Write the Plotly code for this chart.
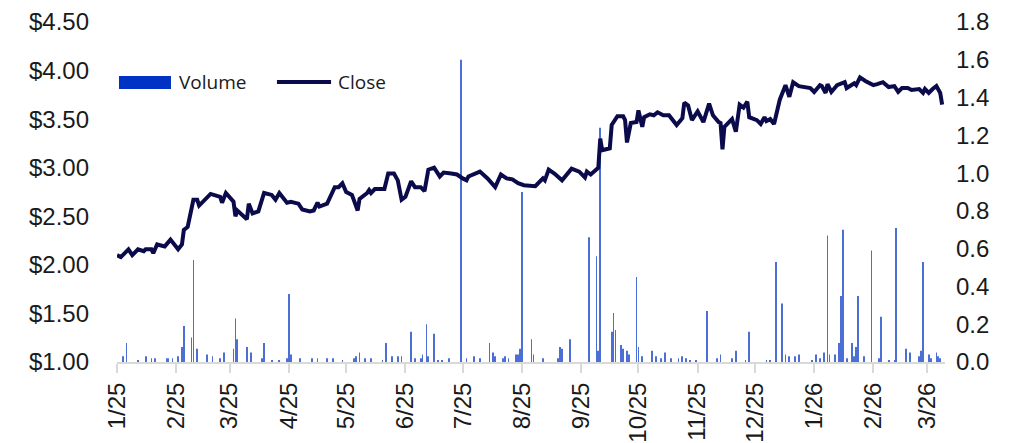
import plotly.graph_objects as go

# closing price
close_dates = [
    "2025-01-01", "2025-01-03", "2025-01-07", "2025-01-09", "2025-01-12", "2025-01-15", "2025-01-16",
    "2025-01-19", "2025-01-20", "2025-01-22", "2025-01-26", "2025-01-29", "2025-02-02", "2025-02-04",
    "2025-02-05", "2025-02-07", "2025-02-10", "2025-02-12", "2025-02-13", "2025-02-19", "2025-02-24",
    "2025-02-25", "2025-02-27", "2025-03-03", "2025-03-04", "2025-03-05", "2025-03-10", "2025-03-11",
    "2025-03-13", "2025-03-16", "2025-03-19", "2025-03-23", "2025-03-25", "2025-03-27", "2025-03-31",
    "2025-04-02", "2025-04-06", "2025-04-08", "2025-04-12", "2025-04-14", "2025-04-16", "2025-04-17",
    "2025-04-21", "2025-04-25", "2025-04-27", "2025-04-29", "2025-05-01", "2025-05-04", "2025-05-07",
    "2025-05-08", "2025-05-12", "2025-05-13", "2025-05-14", "2025-05-16", "2025-05-21", "2025-05-23",
    "2025-05-26", "2025-05-28", "2025-05-30", "2025-06-01", "2025-06-04", "2025-06-06", "2025-06-09",
    "2025-06-11", "2025-06-13", "2025-06-16", "2025-06-19", "2025-06-21", "2025-06-25", "2025-06-28",
    "2025-07-01", "2025-07-03", "2025-07-04", "2025-07-07", "2025-07-10", "2025-07-14", "2025-07-18",
    "2025-07-21", "2025-07-24", "2025-07-27", "2025-07-30", "2025-08-02", "2025-08-05", "2025-08-08",
    "2025-08-12", "2025-08-13", "2025-08-15", "2025-08-18", "2025-08-22", "2025-08-27", "2025-08-31",
    "2025-09-03", "2025-09-04", "2025-09-06", "2025-09-10", "2025-09-11", "2025-09-12", "2025-09-16",
    "2025-09-17", "2025-09-20", "2025-09-23", "2025-09-24", "2025-09-25", "2025-09-27", "2025-09-30",
    "2025-10-01", "2025-10-03", "2025-10-04", "2025-10-07", "2025-10-09", "2025-10-11", "2025-10-14",
    "2025-10-17", "2025-10-21", "2025-10-24", "2025-10-25", "2025-10-27", "2025-10-29", "2025-11-01",
    "2025-11-02", "2025-11-04", "2025-11-07", "2025-11-09", "2025-11-12", "2025-11-13", "2025-11-14",
    "2025-11-15", "2025-11-19", "2025-11-21", "2025-11-23", "2025-11-25", "2025-11-27", "2025-11-28",
    "2025-12-02", "2025-12-04", "2025-12-06", "2025-12-07", "2025-12-09", "2025-12-11", "2025-12-14",
    "2025-12-17", "2025-12-19", "2025-12-21", "2025-12-24", "2025-12-27", "2025-12-30", "2026-01-01",
    "2026-01-04", "2026-01-05", "2026-01-07", "2026-01-08", "2026-01-10", "2026-01-13", "2026-01-17",
    "2026-01-18", "2026-01-22", "2026-01-23", "2026-01-25", "2026-01-28", "2026-02-01", "2026-02-03",
    "2026-02-06", "2026-02-09", "2026-02-12", "2026-02-14", "2026-02-16", "2026-02-19", "2026-02-21",
    "2026-02-25", "2026-02-27", "2026-02-28", "2026-03-02", "2026-03-04", "2026-03-06", "2026-03-08",
    "2026-03-09",
]
close_values = [
    2.10, 2.08, 2.16, 2.10, 2.16, 2.14, 2.16,
    2.16, 2.12, 2.21, 2.19, 2.26, 2.16, 2.21,
    2.36, 2.39, 2.67, 2.67, 2.61, 2.73, 2.70,
    2.64, 2.74, 2.65, 2.50, 2.56, 2.47, 2.63,
    2.53, 2.55, 2.74, 2.72, 2.67, 2.74, 2.64,
    2.65, 2.63, 2.57, 2.55, 2.56, 2.64, 2.60,
    2.63, 2.80, 2.80, 2.84, 2.75, 2.72, 2.56,
    2.68, 2.74, 2.77, 2.74, 2.78, 2.78, 2.94,
    2.94, 2.87, 2.67, 2.70, 2.86, 2.80, 2.80,
    2.76, 2.98, 3.00, 2.91, 2.95, 2.94, 2.93,
    2.89, 2.87, 2.91, 2.93, 2.96, 2.89, 2.80,
    2.93, 2.89, 2.88, 2.84, 2.82, 2.81, 2.81,
    2.89, 2.87, 2.98, 2.94, 2.87, 2.99, 2.96,
    2.90, 2.96, 2.93, 3.00, 3.30, 3.18, 3.20,
    3.44, 3.53, 3.53, 3.49, 3.26, 3.46, 3.47,
    3.59, 3.42, 3.52, 3.55, 3.54, 3.57, 3.54,
    3.54, 3.44, 3.51, 3.67, 3.64, 3.49, 3.58,
    3.54, 3.47, 3.66, 3.54, 3.47, 3.46, 3.19,
    3.42, 3.50, 3.37, 3.65, 3.62, 3.68, 3.52,
    3.49, 3.45, 3.52, 3.48, 3.50, 3.45, 3.70,
    3.85, 3.73, 3.88, 3.84, 3.83, 3.82, 3.78,
    3.85, 3.84, 3.77, 3.86, 3.78, 3.85, 3.88,
    3.82, 3.87, 3.85, 3.93, 3.89, 3.85, 3.86,
    3.88, 3.83, 3.84, 3.78, 3.82, 3.82, 3.80,
    3.81, 3.77, 3.81, 3.77, 3.81, 3.84, 3.77,
    3.65,
]

# daily volume (millions), right axis
vol_dates = [
    "2025-01-04", "2025-01-06", "2025-01-12", "2025-01-16", "2025-01-19", "2025-01-21", "2025-01-27",
    "2025-01-28", "2025-01-30", "2025-02-02", "2025-02-04", "2025-02-05", "2025-02-09", "2025-02-10",
    "2025-02-12", "2025-02-17", "2025-02-20", "2025-02-24", "2025-02-26", "2025-03-03", "2025-03-04",
    "2025-03-05", "2025-03-10", "2025-03-12", "2025-03-18", "2025-03-19", "2025-03-23", "2025-03-27",
    "2025-03-31", "2025-04-01", "2025-04-02", "2025-04-07", "2025-04-13", "2025-04-16", "2025-04-21",
    "2025-04-24", "2025-04-29", "2025-05-05", "2025-05-06", "2025-05-08", "2025-05-11", "2025-05-14",
    "2025-05-20", "2025-05-22", "2025-05-25", "2025-05-28", "2025-05-30", "2025-06-04", "2025-06-06",
    "2025-06-09", "2025-06-10", "2025-06-12", "2025-06-13", "2025-06-16", "2025-06-18", "2025-06-20",
    "2025-06-24", "2025-06-30", "2025-07-03", "2025-07-07", "2025-07-10", "2025-07-15", "2025-07-17",
    "2025-07-18", "2025-07-22", "2025-07-23", "2025-07-25", "2025-07-29", "2025-07-30", "2025-07-31",
    "2025-08-01", "2025-08-06", "2025-08-07", "2025-08-12", "2025-08-20", "2025-08-21", "2025-08-22",
    "2025-08-26", "2025-09-05", "2025-09-09", "2025-09-10", "2025-09-11", "2025-09-17", "2025-09-18",
    "2025-09-19", "2025-09-22", "2025-09-23", "2025-09-25", "2025-09-26", "2025-09-30", "2025-10-01",
    "2025-10-03", "2025-10-08", "2025-10-10", "2025-10-13", "2025-10-15", "2025-10-18", "2025-10-22",
    "2025-10-24", "2025-10-26", "2025-10-28", "2025-10-31", "2025-11-06", "2025-11-11", "2025-11-13",
    "2025-11-19", "2025-11-21", "2025-11-26", "2025-11-28", "2025-12-07", "2025-12-09", "2025-12-12",
    "2025-12-15", "2025-12-17", "2025-12-19", "2025-12-22", "2025-12-24", "2025-12-31", "2026-01-02",
    "2026-01-04", "2026-01-06", "2026-01-08", "2026-01-09", "2026-01-12", "2026-01-14", "2026-01-15",
    "2026-01-16", "2026-01-18", "2026-01-21", "2026-01-22", "2026-01-23", "2026-01-24", "2026-01-27",
    "2026-01-31", "2026-02-04", "2026-02-05", "2026-02-09", "2026-02-12", "2026-02-13", "2026-02-18",
    "2026-02-20", "2026-02-25", "2026-02-26", "2026-02-27", "2026-03-02", "2026-03-03", "2026-03-06",
    "2026-03-07", "2026-03-08",
]
vol_values = [
    0.03, 0.10, 0.01, 0.03, 0.02, 0.02, 0.02,
    0.02, 0.02, 0.03, 0.08, 0.19, 0.13, 0.54,
    0.07, 0.04, 0.03, 0.02, 0.05, 0.07, 0.23,
    0.12, 0.08, 0.05, 0.02, 0.10, 0.01, 0.01,
    0.02, 0.36, 0.04, 0.02, 0.02, 0.02, 0.02,
    0.02, 0.01, 0.02, 0.03, 0.05, 0.02, 0.02,
    0.01, 0.10, 0.03, 0.03, 0.03, 0.16, 0.02,
    0.02, 0.04, 0.20, 0.03, 0.15, 0.01, 0.01,
    0.02, 1.60, 0.02, 0.03, 0.02, 0.10, 0.05,
    0.03, 0.02, 0.03, 0.02, 0.04, 0.04, 0.07,
    0.90, 0.12, 0.04, 0.02, 0.02, 0.08, 0.07,
    0.12, 0.66, 0.56, 0.06, 1.24, 0.16, 0.26,
    0.17, 0.09, 0.07, 0.06, 0.04, 0.45, 0.08,
    0.03, 0.06, 0.03, 0.02, 0.05, 0.02, 0.02,
    0.03, 0.02, 0.01, 0.01, 0.27, 0.02, 0.04,
    0.02, 0.06, 0.01, 0.16, 0.01, 0.01, 0.53,
    0.31, 0.04, 0.03, 0.03, 0.04, 0.01, 0.04,
    0.02, 0.05, 0.67, 0.04, 0.04, 0.10, 0.35,
    0.70, 0.02, 0.10, 0.03, 0.08, 0.35, 0.03,
    0.59, 0.02, 0.24, 0.01, 0.01, 0.71, 0.07,
    0.05, 0.03, 0.06, 0.53, 0.04, 0.02, 0.05,
    0.03, 0.02,
]

NAVY = "#0b0b4b"
BLUE = "#0033c4"
axis_font = dict(family="Liberation Sans, Arial, sans-serif", size=24, color="#1a1a1a")
legend_font = dict(family="Open Sans, sans-serif", size=19, color="#1a1a1a")

fig = go.Figure()
fig.add_trace(go.Bar(
    x=vol_dates, y=vol_values, name="Volume",
    marker=dict(color=BLUE, line_width=0), opacity=0.7,
    width=0.4 * 86400000, yaxis="y",
))
fig.add_trace(go.Scatter(
    x=close_dates, y=close_values, name="Close", mode="lines",
    line=dict(color=NAVY, width=4), yaxis="y2",
))

# the page body adds 8px on the top and left, so margins are trimmed by that
fig.update_layout(
    width=1025, height=443,
    margin=dict(l=109, r=88, t=14, b=89, autoexpand=False),
    paper_bgcolor="white", plot_bgcolor="white",
    showlegend=False,
    xaxis=dict(
        type="date", range=["2025-01-01", "2026-03-10 12:00"],
        tick0="2025-01-01", dtick="M1", tickformat="%-m/%y",
        tickangle=-90, tickfont=axis_font, automargin=False,
        showline=True, linecolor="#d9d9d9", linewidth=2,
        ticks="outside", ticklen=9, tickwidth=2, tickcolor="#d9d9d9",
        showgrid=False, zeroline=False,
    ),
    yaxis=dict(
        side="right", range=[0, 1.8], dtick=0.2, tickformat=".1f",
        tickfont=axis_font, showgrid=False, zeroline=False, showline=False,
        ticklabelstandoff=10, automargin=False,
    ),
    yaxis2=dict(
        side="left", overlaying="y", range=[1, 4.5], dtick=0.5,
        tickprefix="$", tickformat=".2f", automargin=False,
        tickfont=axis_font, showgrid=False, zeroline=False, showline=False,
        ticklabelstandoff=27,
    ),
)

# legend drawn by hand to get the long swatches of the original
fig.add_shape(type="rect", xref="paper", yref="paper",
              x0=0.0024, x1=0.0652, y0=0.803, y1=0.841,
              fillcolor=BLUE, line_width=0)
fig.add_shape(type="line", xref="paper", yref="paper",
              x0=0.1932, x1=0.2585, y0=0.8235, y1=0.8235,
              line=dict(color=NAVY, width=4))
fig.add_annotation(text="Volume", xref="paper", yref="paper", x=0.0725, y=0.8235,
                   xanchor="left", yanchor="middle", showarrow=False, font=legend_font)
fig.add_annotation(text="Close", xref="paper", yref="paper", x=0.2645, y=0.8235,
                   xanchor="left", yanchor="middle", showarrow=False, font=legend_font)

fig.write_html("out.html")
